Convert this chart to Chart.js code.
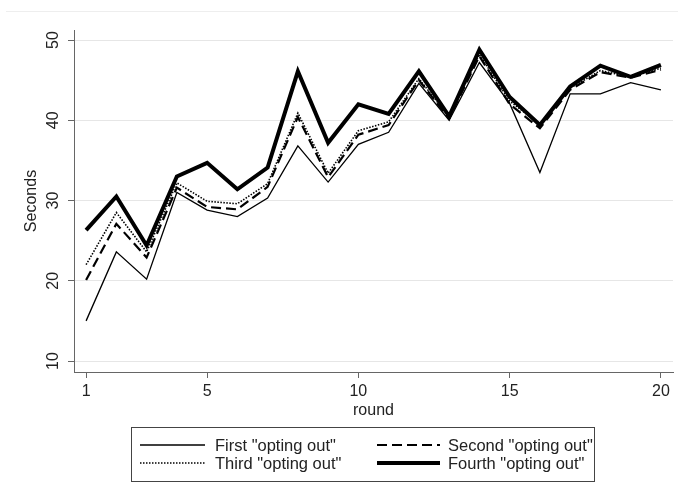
<!DOCTYPE html>
<html>
<head>
<meta charset="utf-8">
<script src="https://cdn.jsdelivr.net/npm/chart.js@4.4.1/dist/chart.umd.min.js"></script>
<style>
  html, body { margin: 0; padding: 0; background: #fff; }
  #wrap { width: 678px; height: 482px; position: relative; }
</style>
</head>
<body>
<div id="wrap"><canvas id="roundChart"></canvas></div>
<script>
// rounds 1..20
const rounds = [1, 2, 3, 4, 5, 6, 7, 8, 9, 10, 11, 12, 13, 14, 15, 16, 17, 18, 19, 20];
const xTicks = [1, 5, 10, 15, 20];
const yTicks = [10, 20, 30, 40, 50];

// seconds per round, one array per "opting out"
const firstOptOut  = [15.0, 23.6, 20.2, 31.0, 28.8, 28.0, 30.3, 36.8, 32.3, 37.0, 38.5, 44.6, 40.0, 47.2, 42.1, 33.5, 43.3, 43.3, 44.7, 43.8];
const secondOptOut = [20.1, 27.1, 22.9, 31.6, 29.2, 28.9, 31.7, 40.4, 32.9, 38.2, 39.4, 45.0, 40.2, 48.0, 42.0, 39.0, 43.8, 46.0, 45.3, 46.3];
const thirdOptOut  = [22.0, 28.5, 23.6, 32.2, 29.9, 29.6, 32.1, 40.9, 33.4, 38.7, 39.8, 45.2, 40.4, 48.2, 42.4, 39.5, 44.0, 46.2, 45.4, 46.5];
const fourthOptOut = [26.3, 30.5, 24.4, 33.0, 34.7, 31.4, 34.1, 46.1, 37.2, 42.0, 40.8, 46.1, 40.5, 48.8, 42.9, 39.4, 44.2, 46.8, 45.4, 46.9];

const seriesLabels = ['First "opting out"', 'Second "opting out"', 'Third "opting out"', 'Fourth "opting out"'];

const FONT = '"Liberation Sans", Arial, sans-serif';
const TEXT = '#222';
const AXIS = '#666';

function pts(values) {
    return rounds.map((r, i) => ({ x: r, y: values[i] }));
}

// legend box drawn by hand (two columns, line samples)
const boxLegend = {
    id: 'boxLegend',
    beforeDraw(chart) {
        const c = chart.ctx;
        c.save();
        c.strokeStyle = '#eeeeee';
        c.lineWidth = 1;
        c.beginPath();
        c.moveTo(6, 11.5);
        c.lineTo(678, 11.5);
        c.stroke();
        c.restore();
    },
    afterDraw(chart) {
        const c = chart.ctx;
        const ds = chart.data.datasets;
        c.save();
        c.strokeStyle = '#444';
        c.lineWidth = 1;
        c.strokeRect(131.5, 427.5, 463, 54);

        const cols = [{ x0: 140, x1: 205, tx: 215 }, { x0: 377, x1: 440, tx: 448 }];
        const rows = [445, 463];
        c.font = '16.5px ' + FONT;
        c.textBaseline = 'middle';
        c.fillStyle = TEXT;
        ds.forEach((d, i) => {
            const col = cols[i % 2];
            const y = rows[Math.floor(i / 2)];
            c.save();
            c.strokeStyle = '#000';
            c.lineWidth = d.borderWidth;
            c.setLineDash(d.borderDash || []);
            c.beginPath();
            c.moveTo(col.x0, y);
            c.lineTo(col.x1, y);
            c.stroke();
            c.restore();
            c.fillText(d.label, col.tx, y + 1);
        });
        c.restore();
    }
};

const chart = new Chart(document.getElementById('roundChart'), {
    type: 'line',
    data: {
        datasets: [
            { label: seriesLabels[0], data: pts(firstOptOut),  borderColor: '#000', borderWidth: 1.3, borderDash: [], order: 3 },
            { label: seriesLabels[1], data: pts(secondOptOut), borderColor: '#000', borderWidth: 2.2, borderDash: [10, 5], order: 2 },
            { label: seriesLabels[2], data: pts(thirdOptOut),  borderColor: '#000', borderWidth: 1.6, borderDash: [1.5, 1.5], order: 1 },
            { label: seriesLabels[3], data: pts(fourthOptOut), borderColor: '#000', borderWidth: 4, borderDash: [], order: 0 }
        ]
    },
    options: {
        responsive: true,
        maintainAspectRatio: false,
        animation: false,
        layout: { padding: { top: 30, right: 5, left: 0, bottom: 0 } },
        elements: {
            point: { radius: 0 },
            line: { tension: 0, fill: false }
        },
        plugins: {
            legend: { display: false },
            tooltip: { enabled: false }
        },
        scales: {
            x: {
                type: 'linear',
                min: 0.6,
                max: 20.4,
                afterBuildTicks: s => { s.ticks = xTicks.map(v => ({ value: v })); },
                afterFit: s => { s.height = 110; },
                border: { display: true, color: AXIS, width: 1 },
                grid: { drawOnChartArea: false, drawTicks: true, tickLength: 6, tickColor: AXIS },
                ticks: { color: TEXT, font: { family: FONT, size: 16 }, padding: 4, maxRotation: 0 },
                title: { display: true, text: 'round', color: TEXT, font: { family: FONT, size: 16 }, padding: { top: 0, bottom: 62 } }
            },
            y: {
                min: 8.63,
                max: 51.25,
                afterBuildTicks: s => { s.ticks = yTicks.map(v => ({ value: v })); },
                afterFit: s => { s.width = 74; },
                border: { display: true, color: AXIS, width: 1 },
                grid: { color: '#e6e6e6', lineWidth: 1, drawTicks: true, tickLength: 6, tickColor: AXIS },
                ticks: { color: TEXT, font: { family: FONT, size: 16 }, padding: 6, minRotation: 90, maxRotation: 90, crossAlign: 'center' },
                title: { display: true, text: 'Seconds', color: TEXT, font: { family: FONT, size: 16 }, padding: { top: 22, bottom: 0 } }
            }
        }
    },
    plugins: [boxLegend]
});
</script>
</body>
</html>
